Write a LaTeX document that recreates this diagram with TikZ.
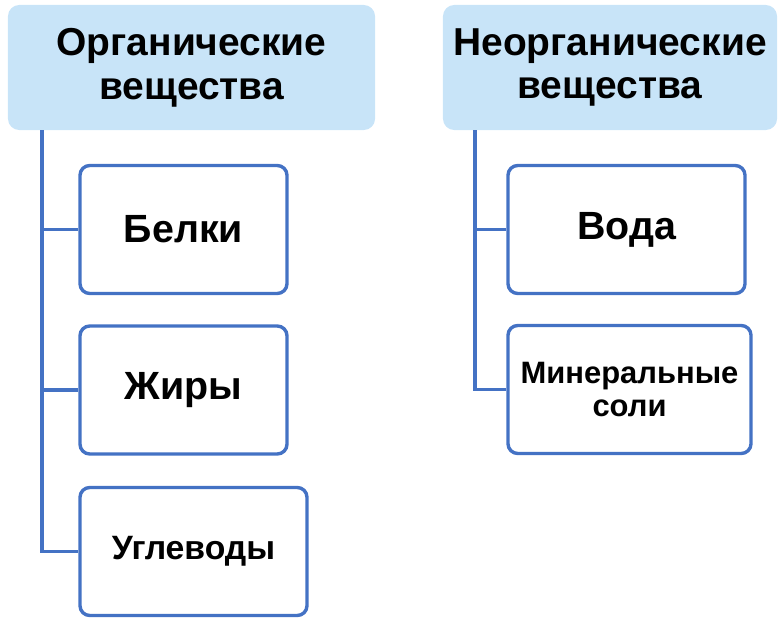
\documentclass[tikz,border=0pt]{standalone}
\usepackage{fontspec}
\setmainfont{Liberation Sans}
\definecolor{headblue}{RGB}{200, 228, 248}
\definecolor{lineblue}{RGB}{68, 114, 196}
\usetikzlibrary{positioning}

\begin{document}
\begin{tikzpicture}[
      x=0.025cm, y=-0.025cm,
      head/.style={rectangle, fill=headblue, draw=none, rounded corners=8pt,
                   minimum height=3.125cm, align=center,
                   font=\fontsize{27.7}{31}\selectfont\bfseries},
      item/.style={rectangle, draw=lineblue, fill=white, line width=2.4pt,
                   rounded corners=7pt, minimum height=3.2cm, align=center,
                   font=\fontsize{28}{31}\selectfont\bfseries},
      link/.style={draw=lineblue, line width=2.6pt}
    ]
      \useasboundingbox (0,0) rectangle (782,625);

      % Headers
      \node[head, minimum width=9.175cm] (org) at (191.5,67.5) {Органические\\вещества};
      \node[head, minimum width=8.35cm] (inorg) at (610,67.5) {Неорганические\\вещества};

      % Organic items
      \node[item, minimum width=5.175cm] (prot) at (183.5,229.5) {Белки};
      \node[item, minimum width=5.175cm] (fat) at (183.5,390) {Жиры};
      \node[item, minimum width=5.675cm, font=\fontsize{24}{28}\selectfont\bfseries] (carb) at (193.5,551.5) {Углеводы};

      % Inorganic items
      \node[item, minimum width=5.925cm] (water) at (626.5,229.5) {Вода};
      \node[item, minimum width=6.075cm, font=\fontsize{22}{23}\selectfont\bfseries] (salt) at (629.5,389.5) {Минеральные\\соли};

      % Trunks
      \coordinate (orgT) at (42,130);
      \coordinate (inorgT) at (475,130);
      \draw[link] (orgT) |- (prot.west);
      \draw[link] (orgT) |- (fat.west);
      \draw[link] (orgT) |- (carb.west);
      \draw[link] (inorgT) |- (water.west);
      \draw[link] (inorgT) |- (salt.west);
    \end{tikzpicture}
\end{document}
